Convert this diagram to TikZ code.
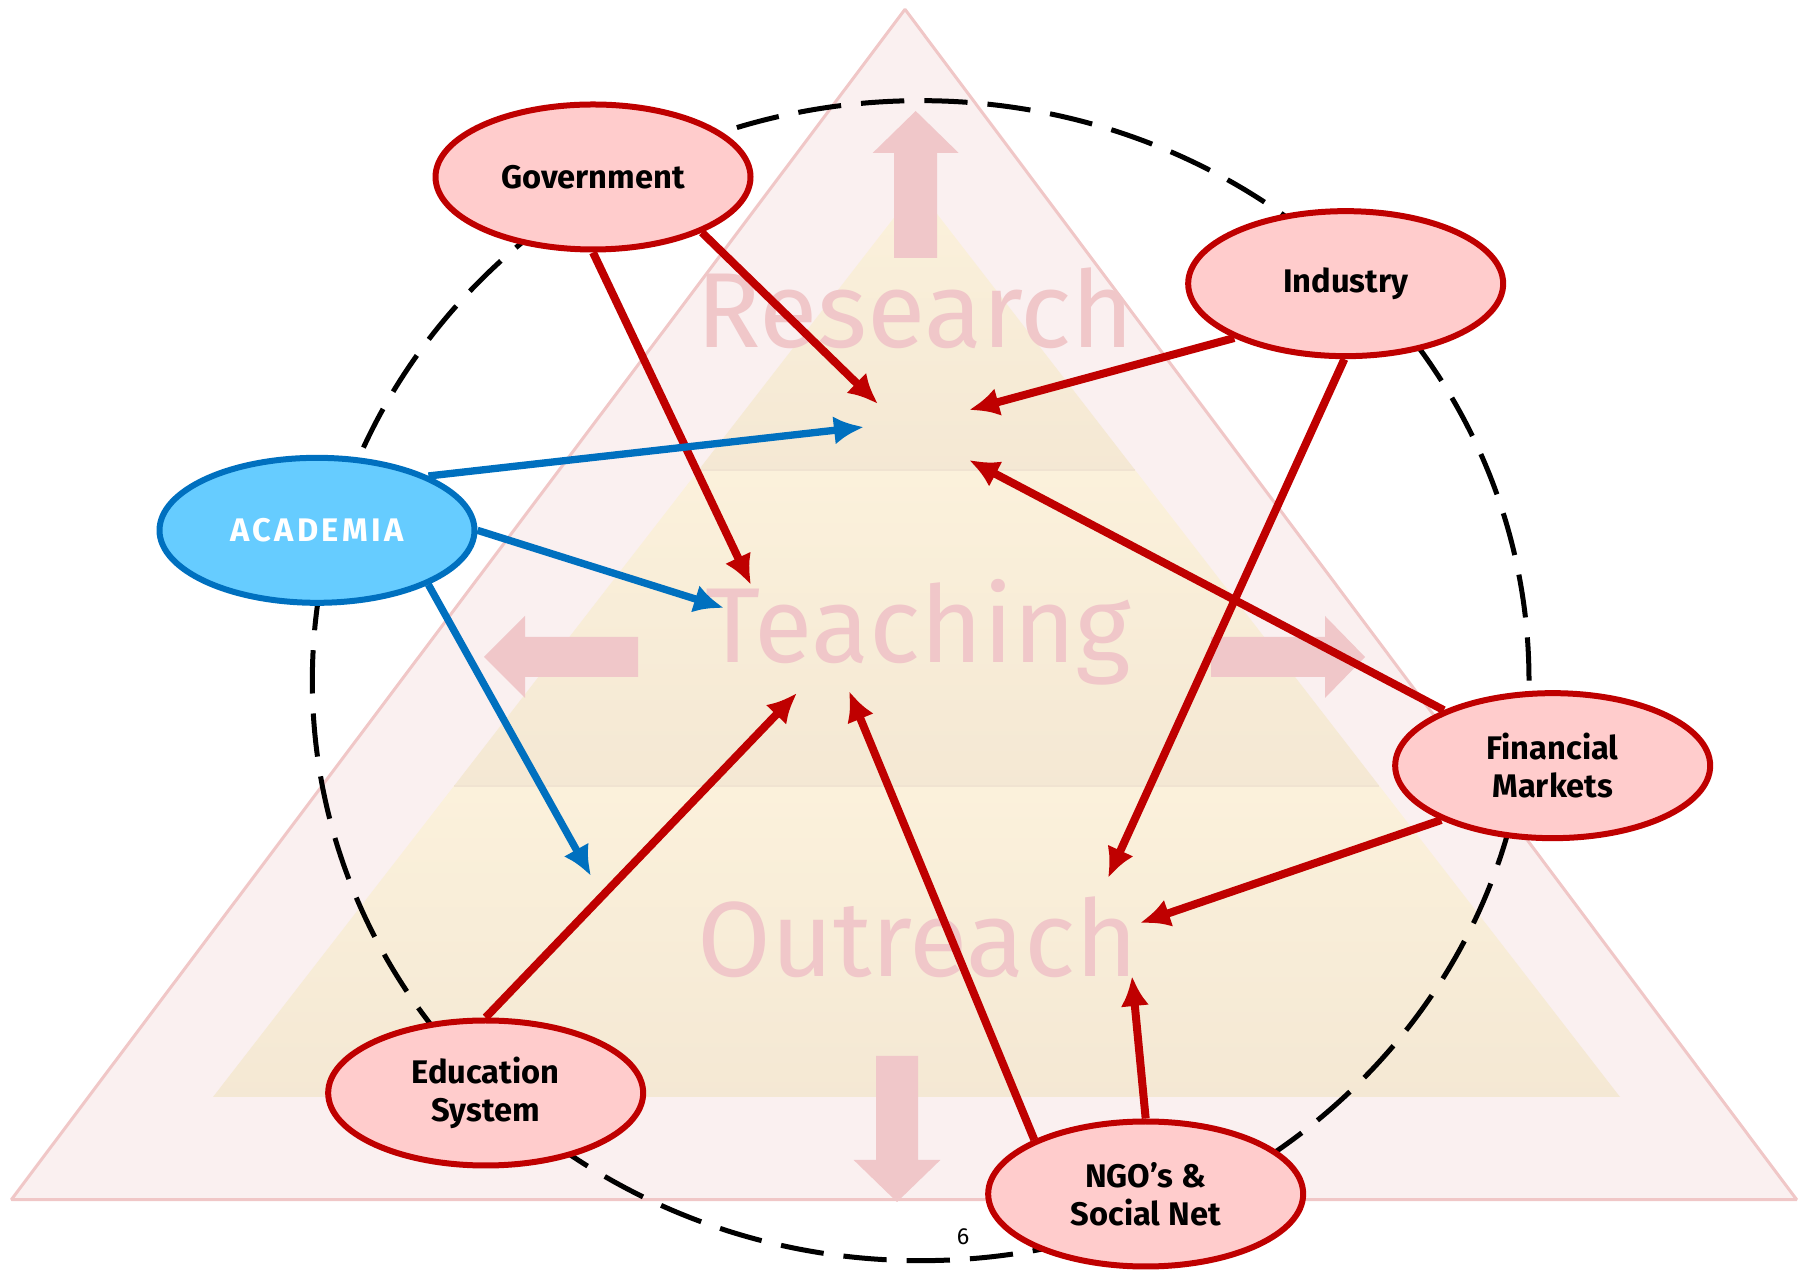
\documentclass[tikz,border=0pt]{standalone}
\usepackage{fontspec}
\setmainfont{Fira Sans}
\usetikzlibrary{shapes.geometric,arrows.meta}

\definecolor{nodered}{rgb}{0.75,0.0,0.0}
\definecolor{nodepink}{rgb}{1.0,0.8,0.8}
\definecolor{nodeblue}{rgb}{0.0,0.44,0.75}
\definecolor{nodesky}{rgb}{0.4,0.8,1.0}
\definecolor{markpink}{rgb}{0.94,0.78,0.79}

\begin{document}
\begin{tikzpicture}[>={Latex[length=9bp,width=8.5bp]},line join=bevel,
  party/.style={ellipse,draw=nodered,fill=nodepink,line width=1.8bp,
    minimum width=94.5bp,minimum height=43.5bp,inner sep=0pt,align=center,
    font=\bfseries\fontsize{9.8bp}{11.4bp}\selectfont},
  link/.style={->,draw=nodered,fill=nodered,line width=2.4bp},
  blink/.style={->,draw=nodeblue,fill=nodeblue,line width=2.2bp},
  watermark/.style={anchor=base,text=markpink,inner sep=0pt,
    font=\fontsize{32bp}{36bp}\selectfont},
  bigarrow/.style={fill=markpink,draw=none},
  ring/.style={draw=black,line width=1.5bp,dash pattern=on 13bp off 6bp},
]
  \useasboundingbox (0.0bp,0.0bp) rectangle (540.0bp,381.6bp);
%%
\begin{scope}
  \definecolor{strokecol}{rgb}{0.94,0.78,0.78};
  \definecolor{fillcol}{rgb}{0.98,0.94,0.94};
  \filldraw [draw=strokecol,fill=fillcol,line width=0.9bp] (271.5bp,378.8bp) -- (3.4bp,21.7bp) -- (539.0bp,21.7bp) -- cycle;
\end{scope}
\begin{scope}
  \definecolor{strokecol}{rgb}{0.94,0.89,0.82};
  \definecolor{topcol}{rgb}{0.985,0.945,0.86};
  \definecolor{botcol}{rgb}{0.958,0.91,0.83};
  \shade [top color=topcol,bottom color=botcol] (275.1bp,325.2bp) -- (209.6bp,240.6bp) -- (340.5bp,240.6bp) -- cycle;
  \shade [top color=topcol,bottom color=botcol] (209.6bp,240.6bp) -- (136.2bp,145.8bp) -- (413.8bp,145.8bp) -- (340.5bp,240.6bp) -- cycle;
  \shade [top color=topcol,bottom color=botcol] (136.2bp,145.8bp) -- (63.9bp,52.5bp) -- (486.0bp,52.5bp) -- (413.8bp,145.8bp) -- cycle;
  \draw [draw=strokecol,line width=0.6bp] (209.6bp,240.6bp) -- (340.5bp,240.6bp);
  \draw [draw=strokecol,line width=0.6bp] (136.2bp,145.8bp) -- (413.8bp,145.8bp);
\end{scope}
  % big arrows: up, left, right, down
  \fill [bigarrow] (268.25bp,304.2bp) -- (268.25bp,335.7bp) -- (261.8bp,335.7bp) -- (274.7bp,348.3bp) -- (287.6bp,335.7bp) -- (281.15bp,335.7bp) -- (281.15bp,304.2bp) -- cycle;
  \fill [bigarrow] (191.4bp,178.5bp) -- (157.5bp,178.5bp) -- (157.5bp,172.2bp) -- (145.2bp,184.5bp) -- (157.5bp,196.8bp) -- (157.5bp,190.5bp) -- (191.4bp,190.5bp) -- cycle;
  \fill [bigarrow] (363.3bp,178.5bp) -- (397.5bp,178.5bp) -- (397.5bp,172.2bp) -- (409.5bp,184.5bp) -- (397.5bp,196.8bp) -- (397.5bp,190.5bp) -- (363.3bp,190.5bp) -- cycle;
  \fill [bigarrow] (262.8bp,64.8bp) -- (262.8bp,33.6bp) -- (256.1bp,33.6bp) -- (269.1bp,21.0bp) -- (282.1bp,33.6bp) -- (275.4bp,33.6bp) -- (275.4bp,64.8bp) -- cycle;
  % Levels
  \node [watermark] (research) at (274.5bp,277.2bp) {Research};
  \node [watermark] (teaching) at (275.4bp,182.7bp) {Teaching};
  \node [watermark] (outreach) at (275.3bp,88.5bp) {Outreach};
  % Ring
  \draw [ring] (276.2bp,177.4bp) ellipse [x radius=182.5bp,y radius=174.0bp];
  % Node: government
  \node [party] (government) at (177.9bp,328.5bp) {Government};
  % Node: industry
  \node [party] (industry) at (403.7bp,296.5bp) {Industry};
  % Node: academia
  \node [party,draw=nodeblue,fill=nodesky,text=white] (academia) at (95.1bp,222.5bp) {\addfontfeature{LetterSpace=10}ACADEMIA};
  % Node: financial
  \node [party] (financial) at (465.8bp,151.9bp) {Financial\\Markets};
  % Node: education
  \node [party] (education) at (145.7bp,53.7bp) {Education\\System};
  % Node: ngo
  \node [party] (ngo) at (343.7bp,23.4bp) {NGO’s \&\\Social Net};
  % Arrow ends
  \coordinate (res_gov) at (263.4bp,260.4bp);
  \coordinate (tea_gov) at (225.3bp,206.1bp);
  \coordinate (res_ind) at (290.7bp,258.6bp);
  \coordinate (out_ind) at (332.4bp,118.2bp);
  \coordinate (res_fin) at (290.7bp,243.6bp);
  \coordinate (out_fin) at (342.0bp,104.7bp);
  \coordinate (tea_edu) at (239.1bp,173.7bp);
  \coordinate (tea_ngo) at (254.7bp,174.3bp);
  \coordinate (out_ngo) at (339.6bp,88.8bp);
  \coordinate (res_aca) at (259.2bp,253.5bp);
  \coordinate (tea_aca) at (217.2bp,199.2bp);
  \coordinate (out_aca) at (177.3bp,118.8bp);
  % Edge: government -> research
  \draw [link] (government.-27) -- (res_gov);
  % Edge: government -> teaching
  \draw [link] (government.-90) -- (tea_gov);
  % Edge: industry -> research
  \draw [link] (industry.-154) -- (res_ind);
  % Edge: industry -> outreach
  \draw [link] (industry.-91) -- (out_ind);
  % Edge: financial -> research
  \draw [link] (financial.153) -- (res_fin);
  % Edge: financial -> outreach
  \draw [link] (financial.-154) -- (out_fin);
  % Edge: education -> teaching
  \draw [link] (education.90) -- (tea_edu);
  % Edge: ngo -> teaching
  \draw [link] (ngo.154) -- (tea_ngo);
  % Edge: ngo -> outreach
  \draw [link] (ngo.90) -- (out_ngo);
  % Edge: academia -> research
  \draw [blink] (academia.26) -- (res_aca);
  % Edge: academia -> teaching
  \draw [blink] (academia.0) -- (tea_aca);
  % Edge: academia -> outreach
  \draw [blink] (academia.-26) -- (out_aca);
  % page number
  \node [font=\fontsize{7bp}{8bp}\selectfont,inner sep=0pt] (pageno) at (288.9bp,10.5bp) {6};
%
\end{tikzpicture}
\end{document}
